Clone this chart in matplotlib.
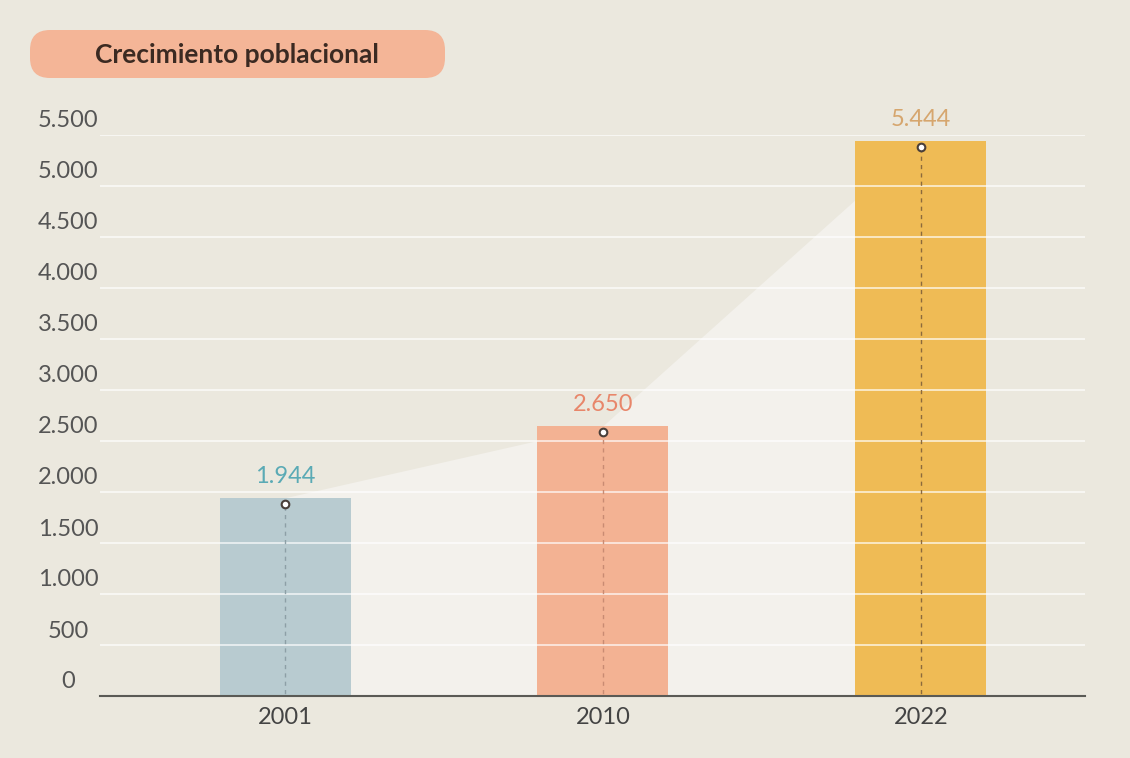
import matplotlib.pyplot as plt
from matplotlib.patches import FancyBboxPatch
import matplotlib.transforms as mtransforms

years = ["2001", "2010", "2022"]
values = [1944, 2650, 5444]
value_labels = ["1.944", "2.650", "5.444"]
bar_colors = ["#b8cbd0", "#f3b293", "#efbb55"]
label_colors = ["#5aaab5", "#e8866a", "#d6a66e"]
dash_colors = ["#8d9fa6", "#c98b73", "#8c6a3c"]
yticks = [0, 500, 1000, 1500, 2000, 2500, 3000, 3500, 4000, 4500, 5000, 5500]
ytick_labels = ["0", "500", "1.000", "1.500", "2.000", "2.500", "3.000",
                "3.500", "4.000", "4.500", "5.000", "5.500"]

plt.rcParams['font.family'] = ['Lato', 'DejaVu Sans']

bg = "#ebe8de"
fig = plt.figure(figsize=(11.3, 7.58), dpi=100, facecolor=bg)
ax = fig.add_axes([100/1130, 62/758, 985/1130, 561/758])
ax.set_facecolor(bg)

x = list(range(len(years)))

# light area under the line joining the tops
ax.fill_between(x, values, 0, color="#f3f1ec", zorder=1, linewidth=0)

ax.bar(x, values, width=0.412, color=bar_colors, zorder=2)

# grid on top of bars
for t in yticks[1:]:
    ax.axhline(t, color="white", linewidth=1.3, alpha=0.7, zorder=3)

down = mtransforms.offset_copy(ax.transData, fig=fig, x=0, y=-6, units='dots')
for i in x:
    ax.plot([i, i], [0, values[i]], color=dash_colors[i], linestyle=(0, (3, 3)),
            linewidth=1, zorder=4, transform=down)
    ax.plot(i, values[i], 'o', markersize=5.5, markerfacecolor="white",
            markeredgecolor="#4a3f3a", markeredgewidth=1.5, zorder=5,
            transform=down)
    ax.annotate(value_labels[i], (i, values[i]), xytext=(0, 8),
                textcoords="offset points", ha="center", va="bottom",
                fontsize=17, color=label_colors[i], zorder=6)

ax.set_xlim(-0.582, 2.516)
ax.set_ylim(0, 5500)

ax.set_xticks(x)
ax.set_xticklabels(years, fontsize=17, color="#444444")
ax.set_yticks(yticks)
ax.set_yticklabels(ytick_labels, fontsize=17, color="#555555", ha="center")
ax.tick_params(axis="x", length=0, pad=8)
ax.tick_params(axis="y", length=0, pad=23)
up = mtransforms.ScaledTranslation(0, 16/100, fig.dpi_scale_trans)
for lab in ax.get_yticklabels():
    lab.set_transform(lab.get_transform() + up)

for s in ["top", "right", "left"]:
    ax.spines[s].set_visible(False)
ax.spines["bottom"].set_color("#5a5a55")
ax.spines["bottom"].set_linewidth(1.5)
ax.spines["bottom"].set_zorder(7)

# title pill, drawn in pixel coordinates
pax = fig.add_axes([0, 0, 1, 1], zorder=-1)
pax.set_xlim(0, 1130)
pax.set_ylim(758, 0)
pax.axis("off")
pill = FancyBboxPatch((30, 30), 415, 48,
                      boxstyle="round,pad=0,rounding_size=20",
                      facecolor="#f4b597", edgecolor="none")
pax.add_patch(pill)
pax.text(237, 55, "Crecimiento poblacional", ha="center",
         va="center", fontsize=19, fontweight="bold", color="#3b2a22")
ax.set_zorder(1)
ax.patch.set_alpha(0)

fig.savefig("out.png", dpi=100, facecolor=bg)
